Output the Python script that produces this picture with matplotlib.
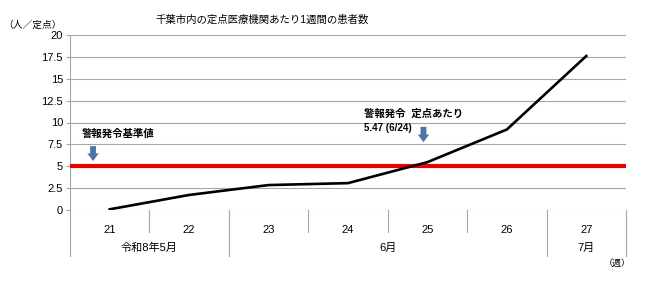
import matplotlib
matplotlib.use("Agg")
import matplotlib.pyplot as plt

plt.rcParams["font.family"] = ["Liberation Sans", "Noto Sans CJK JP", "DejaVu Sans"]

# data
weeks = ["21", "22", "23", "24", "25", "26", "27"]
patients = [0.08, 1.72, 2.85, 3.07, 5.47, 9.2, 17.6]
alert_level = 5
yticks = [0, 2.5, 5, 7.5, 10, 12.5, 15, 17.5, 20]
ytick_labels = ["0", "2.5", "5", "7.5", "10", "12.5", "15", "17.5", "20"]
month_labels = ["令和8年5月", "6月", "7月"]
month_spans = [(0, 2), (2, 6), (6, 7)]

GRID = "#a6a6a6"
ARROW = "#4a76a8"
ARROW_STYLE = "simple,head_width=0.75,head_length=0.5,tail_width=0.38"

fig = plt.figure(figsize=(6.61, 2.86), dpi=100)
W, H = 661, 286
ax = fig.add_axes([70 / W, 1 - 210 / H, (626 - 70) / W, 175 / H])

x = [i + 0.5 for i in range(len(weeks))]
ax.axhline(alert_level, color="#e60000", linewidth=3.0, zorder=3)
ax.plot(x, patients, color="black", linewidth=1.9, zorder=4)

ax.set_xlim(0, len(weeks))
ax.set_ylim(0, 20)
ax.set_yticks(yticks)
ax.set_yticklabels(ytick_labels, fontsize=8)
ax.tick_params(axis="y", length=3, width=0.8, color=GRID, pad=2)
ax.grid(axis="y", color=GRID, linewidth=0.8)
ax.set_axisbelow(True)

for side in ["top", "right", "bottom"]:
    ax.spines[side].set_visible(False)
ax.spines["left"].set_color(GRID)
ax.spines["left"].set_linewidth(0.8)

# week labels and separators
ax.set_xticks(x)
ax.set_xticklabels(weeks, fontsize=8)
ax.tick_params(axis="x", length=0, pad=11)
trans = ax.get_xaxis_transform()
short = -22 / 175
long = -46 / 175
bounds = {b for span in month_spans for b in span}
for b in range(len(weeks) + 1):
    low = long if b in bounds else short
    ax.plot([b, b], [0, low], transform=trans, color=GRID, linewidth=0.8, clip_on=False)

for label, (a, b) in zip(month_labels, month_spans):
    ax.text((a + b) / 2, -38 / 175, label, transform=trans, ha="center", va="center", fontsize=8)

fig.text(617 / W, 1 - 263 / H, "（週）", ha="center", va="center", fontsize=6.5)
fig.text(32 / W, 1 - 25 / H, "（人／定点）", ha="center", va="center", fontsize=7)
fig.text(262 / W, 1 - 20 / H, "千葉市内の定点医療機関あたり1週間の患者数", ha="center", va="center", fontsize=7.5)

# annotations
arrow_props = dict(arrowstyle=ARROW_STYLE, color=ARROW, lw=0, mutation_scale=11,
                   shrinkA=0, shrinkB=0)
ax.text(0.15, 8.75, "警報発令基準値", fontsize=7.5, fontweight="bold", va="center")
ax.annotate("", xy=(0.29, 5.6), xytext=(0.29, 7.3), arrowprops=arrow_props)
ax.text(3.7, 10.95, "警報発令  定点あたり", fontsize=7.5, fontweight="bold", va="center")
ax.text(3.7, 9.4, "5.47 (6/24)", fontsize=7, fontweight="bold", va="center")
ax.annotate("", xy=(4.45, 7.75), xytext=(4.45, 9.5), arrowprops=arrow_props)

fig.savefig("out.png", dpi=100)
